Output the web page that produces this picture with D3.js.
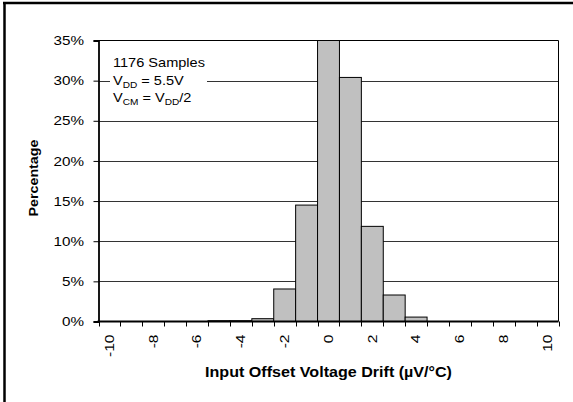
<!DOCTYPE html>
<html>
<head>
<meta charset="utf-8">
<script src="https://cdn.jsdelivr.net/npm/d3@7"></script>
<style>
  html, body { margin: 0; padding: 0; background: #fff; overflow: hidden; width: 573px; height: 402px; }
  svg { display: block; font-family: "Liberation Sans", Arial, sans-serif; }
</style>
</head>
<body>
<svg id="chart" width="573" height="402"></svg>
<script>
// Histogram bins (µV/°C) and percentage of units in each bin
const bins = [-10, -9, -8, -7, -6, -5, -4, -3, -2, -1, 0, 1, 2, 3, 4, 5, 6, 7, 8, 9, 10];
const percent = [0, 0, 0, 0, 0, 0.1, 0.1, 0.35, 4.05, 14.5, 35.0, 30.4, 11.85, 3.3, 0.55, 0, 0, 0, 0, 0, 0];
const xTickLabels = [-10, -8, -6, -4, -2, 0, 2, 4, 6, 8, 10];
const yTicks = [0, 5, 10, 15, 20, 25, 30, 35];

const svg = d3.select("#chart");
const plot = { left: 98.5, right: 558.5, top: 40.5, bottom: 321.5 };

// page background
svg.append("rect").attr("width", 573).attr("height", 402).attr("fill", "#fff");

// outer frame (only the top and left edges fall inside the canvas)
svg.append("line").attr("x1", 3).attr("x2", 573).attr("y1", 3).attr("y2", 3)
  .attr("stroke", "#000").attr("stroke-width", 2.5);
svg.append("line").attr("x1", 4.5).attr("x2", 4.5).attr("y1", 2).attr("y2", 402)
  .attr("stroke", "#000").attr("stroke-width", 2.5);

const x = d3.scaleBand().domain(bins).range([plot.left, plot.right]).padding(0);
const y = d3.scaleLinear().domain([0, 35]).range([plot.bottom, plot.top]);

// horizontal gridlines
svg.append("g").selectAll("line").data(yTicks.filter(d => d > 0 && d < 35)).join("line")
  .attr("x1", plot.left).attr("x2", plot.right)
  .attr("y1", d => Math.round(y(d)) + 0.5).attr("y2", d => Math.round(y(d)) + 0.5)
  .attr("stroke", "#333").attr("stroke-width", 1);

// plot-area box (top and right)
svg.append("path")
  .attr("d", `M${plot.left},${plot.top}H${plot.right}V${plot.bottom}`)
  .attr("fill", "none").attr("stroke", "#000").attr("stroke-width", 1);

// bars
svg.append("g").selectAll("rect").data(bins.map((b, i) => ({ b, v: percent[i] })).filter(d => d.v > 0))
  .join("rect")
  .attr("x", d => x(d.b))
  .attr("width", x.bandwidth())
  .attr("y", d => y(d.v))
  .attr("height", d => y(0) - y(d.v))
  .attr("fill", "#c0c0c0").attr("stroke", "#000").attr("stroke-width", 1);

// note box with its own white background over the gridline
const note = svg.append("g");
note.append("rect").attr("x", 110).attr("y", 50).attr("width", 97).attr("height", 60).attr("fill", "#fff");
function addLine(parts, ty) {
  const t = note.append("text")
    .attr("transform", `translate(113,${ty}) scale(1.12,1)`)
    .attr("font-size", 13).attr("fill", "#000");
  parts.forEach(p => {
    const s = t.append("tspan").text(p.t);
    if (p.sub) s.attr("font-size", 9).attr("dy", 3);
    else if (p.after) s.attr("dy", -3);
  });
}
addLine([{ t: "1176 Samples" }], 67);
addLine([{ t: "V" }, { t: "DD", sub: true }, { t: " = 5.5V", after: true }], 84.5);
addLine([{ t: "V" }, { t: "CM", sub: true }, { t: " = V", after: true }, { t: "DD", sub: true }, { t: "/2", after: true }], 102);

// y axis line and ticks
const yAxis = d3.axisLeft(y).tickValues(yTicks).tickSize(5).tickFormat("");
const gy = svg.append("g").attr("transform", `translate(${plot.left},0)`).call(yAxis);
gy.select(".domain").attr("stroke", "#000").attr("stroke-width", 1.8);
gy.selectAll(".tick line").attr("stroke", "#000");
svg.append("g").selectAll("text").data(yTicks).join("text")
  .attr("transform", d => `translate(84,${y(d) + 4.6}) scale(1.22,1)`)
  .attr("text-anchor", "end").attr("font-size", 12.5).attr("fill", "#000")
  .text(d => d + "%");

// x axis: tick marks on bin boundaries, labels on every second bin
const bounds = bins.map(b => x(b)).concat([plot.right]);
svg.append("line").attr("x1", plot.left - 1).attr("x2", plot.right)
  .attr("y1", plot.bottom).attr("y2", plot.bottom)
  .attr("stroke", "#000").attr("stroke-width", 1.8);
svg.append("g").selectAll("line").data(bounds).join("line")
  .attr("x1", d => Math.round(d) + 0.5).attr("x2", d => Math.round(d) + 0.5)
  .attr("y1", plot.bottom).attr("y2", plot.bottom + 5)
  .attr("stroke", "#000");
svg.append("g").selectAll("text").data(xTickLabels).join("text")
  .attr("transform", d => `translate(${x(d) + x.bandwidth() / 2 + 4.3},334.5) rotate(-90) scale(1.3,1)`)
  .attr("text-anchor", "end")
  .attr("font-size", 12).attr("fill", "#000")
  .text(d => d);

// axis titles
svg.append("text")
  .attr("transform", `translate(38.3,178) rotate(-90) scale(1.19,1)`)
  .attr("text-anchor", "middle").attr("font-weight", "bold").attr("font-size", 12)
  .text("Percentage");
svg.append("text")
  .attr("transform", `translate(${(plot.left + plot.right) / 2},377) scale(1.15,1)`)
  .attr("text-anchor", "middle").attr("font-weight", "bold").attr("font-size", 14)
  .text("Input Offset Voltage Drift (µV/°C)");
</script>
</body>
</html>
